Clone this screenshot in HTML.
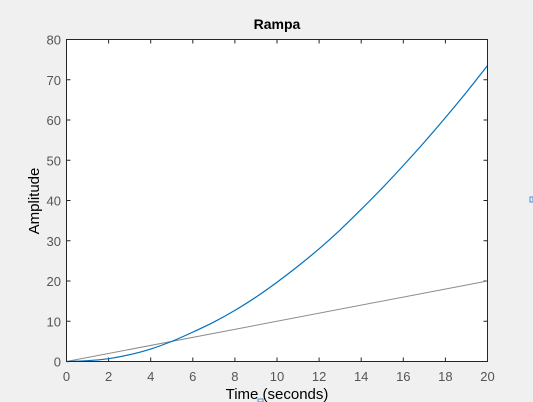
<!DOCTYPE html>
<html><head><meta charset="utf-8"><style>
html,body{margin:0;padding:0;background:#f0f0f0;}
svg{display:block;font-family:"Liberation Sans",Arial,sans-serif;}
</style></head><body>
<svg id="chart" width="533" height="402">
<rect x="0" y="0" width="533" height="402" fill="#f0f0f0"/>
<rect x="66.5" y="39.5" width="421" height="322" fill="#fff"/>
<g id="grid"></g>
<g id="series"></g>
<rect x="66.5" y="39.5" width="421" height="322" fill="none" stroke="#262626" stroke-width="1"/>
<text x="277" y="29" text-anchor="middle" font-size="14" font-weight="bold" fill="#000">Rampa</text>
<text x="277" y="399" text-anchor="middle" font-size="15" fill="#000">Time (seconds)</text>
<text transform="translate(39,201) rotate(-90)" text-anchor="middle" font-size="15" fill="#000">Amplitude</text>
<rect x="530" y="197" width="3" height="5" fill="none" stroke="#4a90d0" stroke-width="1"/>
<rect x="258" y="399" width="5" height="3" fill="none" stroke="#4a90d0" stroke-width="1"/>
</svg>
<script>
const xTicks = [0,2,4,6,8,10,12,14,16,18,20];
const yTicks = [0,10,20,30,40,50,60,70,80];
const times = [0,1,2,3,4,5,6,7,8,9,10,11,12,13,14,15,16,17,18,19,20];
const response = [0,0.2,0.7,1.7,3.1,5.0,7.3,9.8,12.7,16.0,19.7,23.7,28.0,32.7,37.8,43.1,48.7,54.5,60.6,66.9,73.5];
const rampTimes = [0,20];
const rampValues = [0,20];

const X0=66.5,X1=487.5,Y0=361.5,Y1=39.5;
const sx=v=>X0+(v-0)/(20-0)*(X1-X0);
const sy=v=>Y0-(v-0)/(80-0)*(Y0-Y1);
const NS="http://www.w3.org/2000/svg";
const grid=document.getElementById('grid');
const series=document.getElementById('series');
function mk(tag,attrs,parent){const e=document.createElementNS(NS,tag);for(const k in attrs)e.setAttribute(k,attrs[k]);parent.appendChild(e);return e;}

xTicks.forEach(t=>{
  const x=sx(t);
  const a=mk('line',{x1:x,x2:x,y1:Y0,y2:Y0-4,stroke:'#262626'},grid);
  
  
  const b=mk('line',{x1:x,x2:x,y1:Y1,y2:Y1+4,stroke:'#262626'},grid);
  
  
  const l=mk('text',{x:x,y:381,'text-anchor':'middle','font-size':13,fill:'#555'},grid);
  l.textContent=t;
  
  
});
yTicks.forEach(t=>{
  const y=sy(t);
  const a=mk('line',{x1:X0,x2:X0+4,y1:y,y2:y,stroke:'#262626'},grid);
  
  
  const b=mk('line',{x1:X1,x2:X1-4,y1:y,y2:y,stroke:'#262626'},grid);
  
  
  const l=mk('text',{x:61,y:y+5,'text-anchor':'end','font-size':13,fill:'#555'},grid);
  l.textContent=t;
  
  
});

const ramp=mk('polyline',{points:rampTimes.map((t,i)=>sx(t)+','+sy(rampValues[i])).join(' '),fill:'none',stroke:'#8c8c8c','stroke-width':1},series);



// smooth Catmull-Rom path through data points
const P=times.map((t,i)=>[sx(t),sy(response[i])]);
let d='M'+P[0][0]+','+P[0][1];
for(let i=0;i<P.length-1;i++){
  const p0=P[Math.max(0,i-1)],p1=P[i],p2=P[i+1],p3=P[Math.min(P.length-1,i+2)];
  const c1=[p1[0]+(p2[0]-p0[0])/6,p1[1]+(p2[1]-p0[1])/6];
  const c2=[p2[0]-(p3[0]-p1[0])/6,p2[1]-(p3[1]-p1[1])/6];
  d+=' C'+c1[0]+','+c1[1]+' '+c2[0]+','+c2[1]+' '+p2[0]+','+p2[1];
}
const resp=mk('path',{d:d,fill:'none',stroke:'#0072bd','stroke-width':1.2},series);


</script>
</body></html>
